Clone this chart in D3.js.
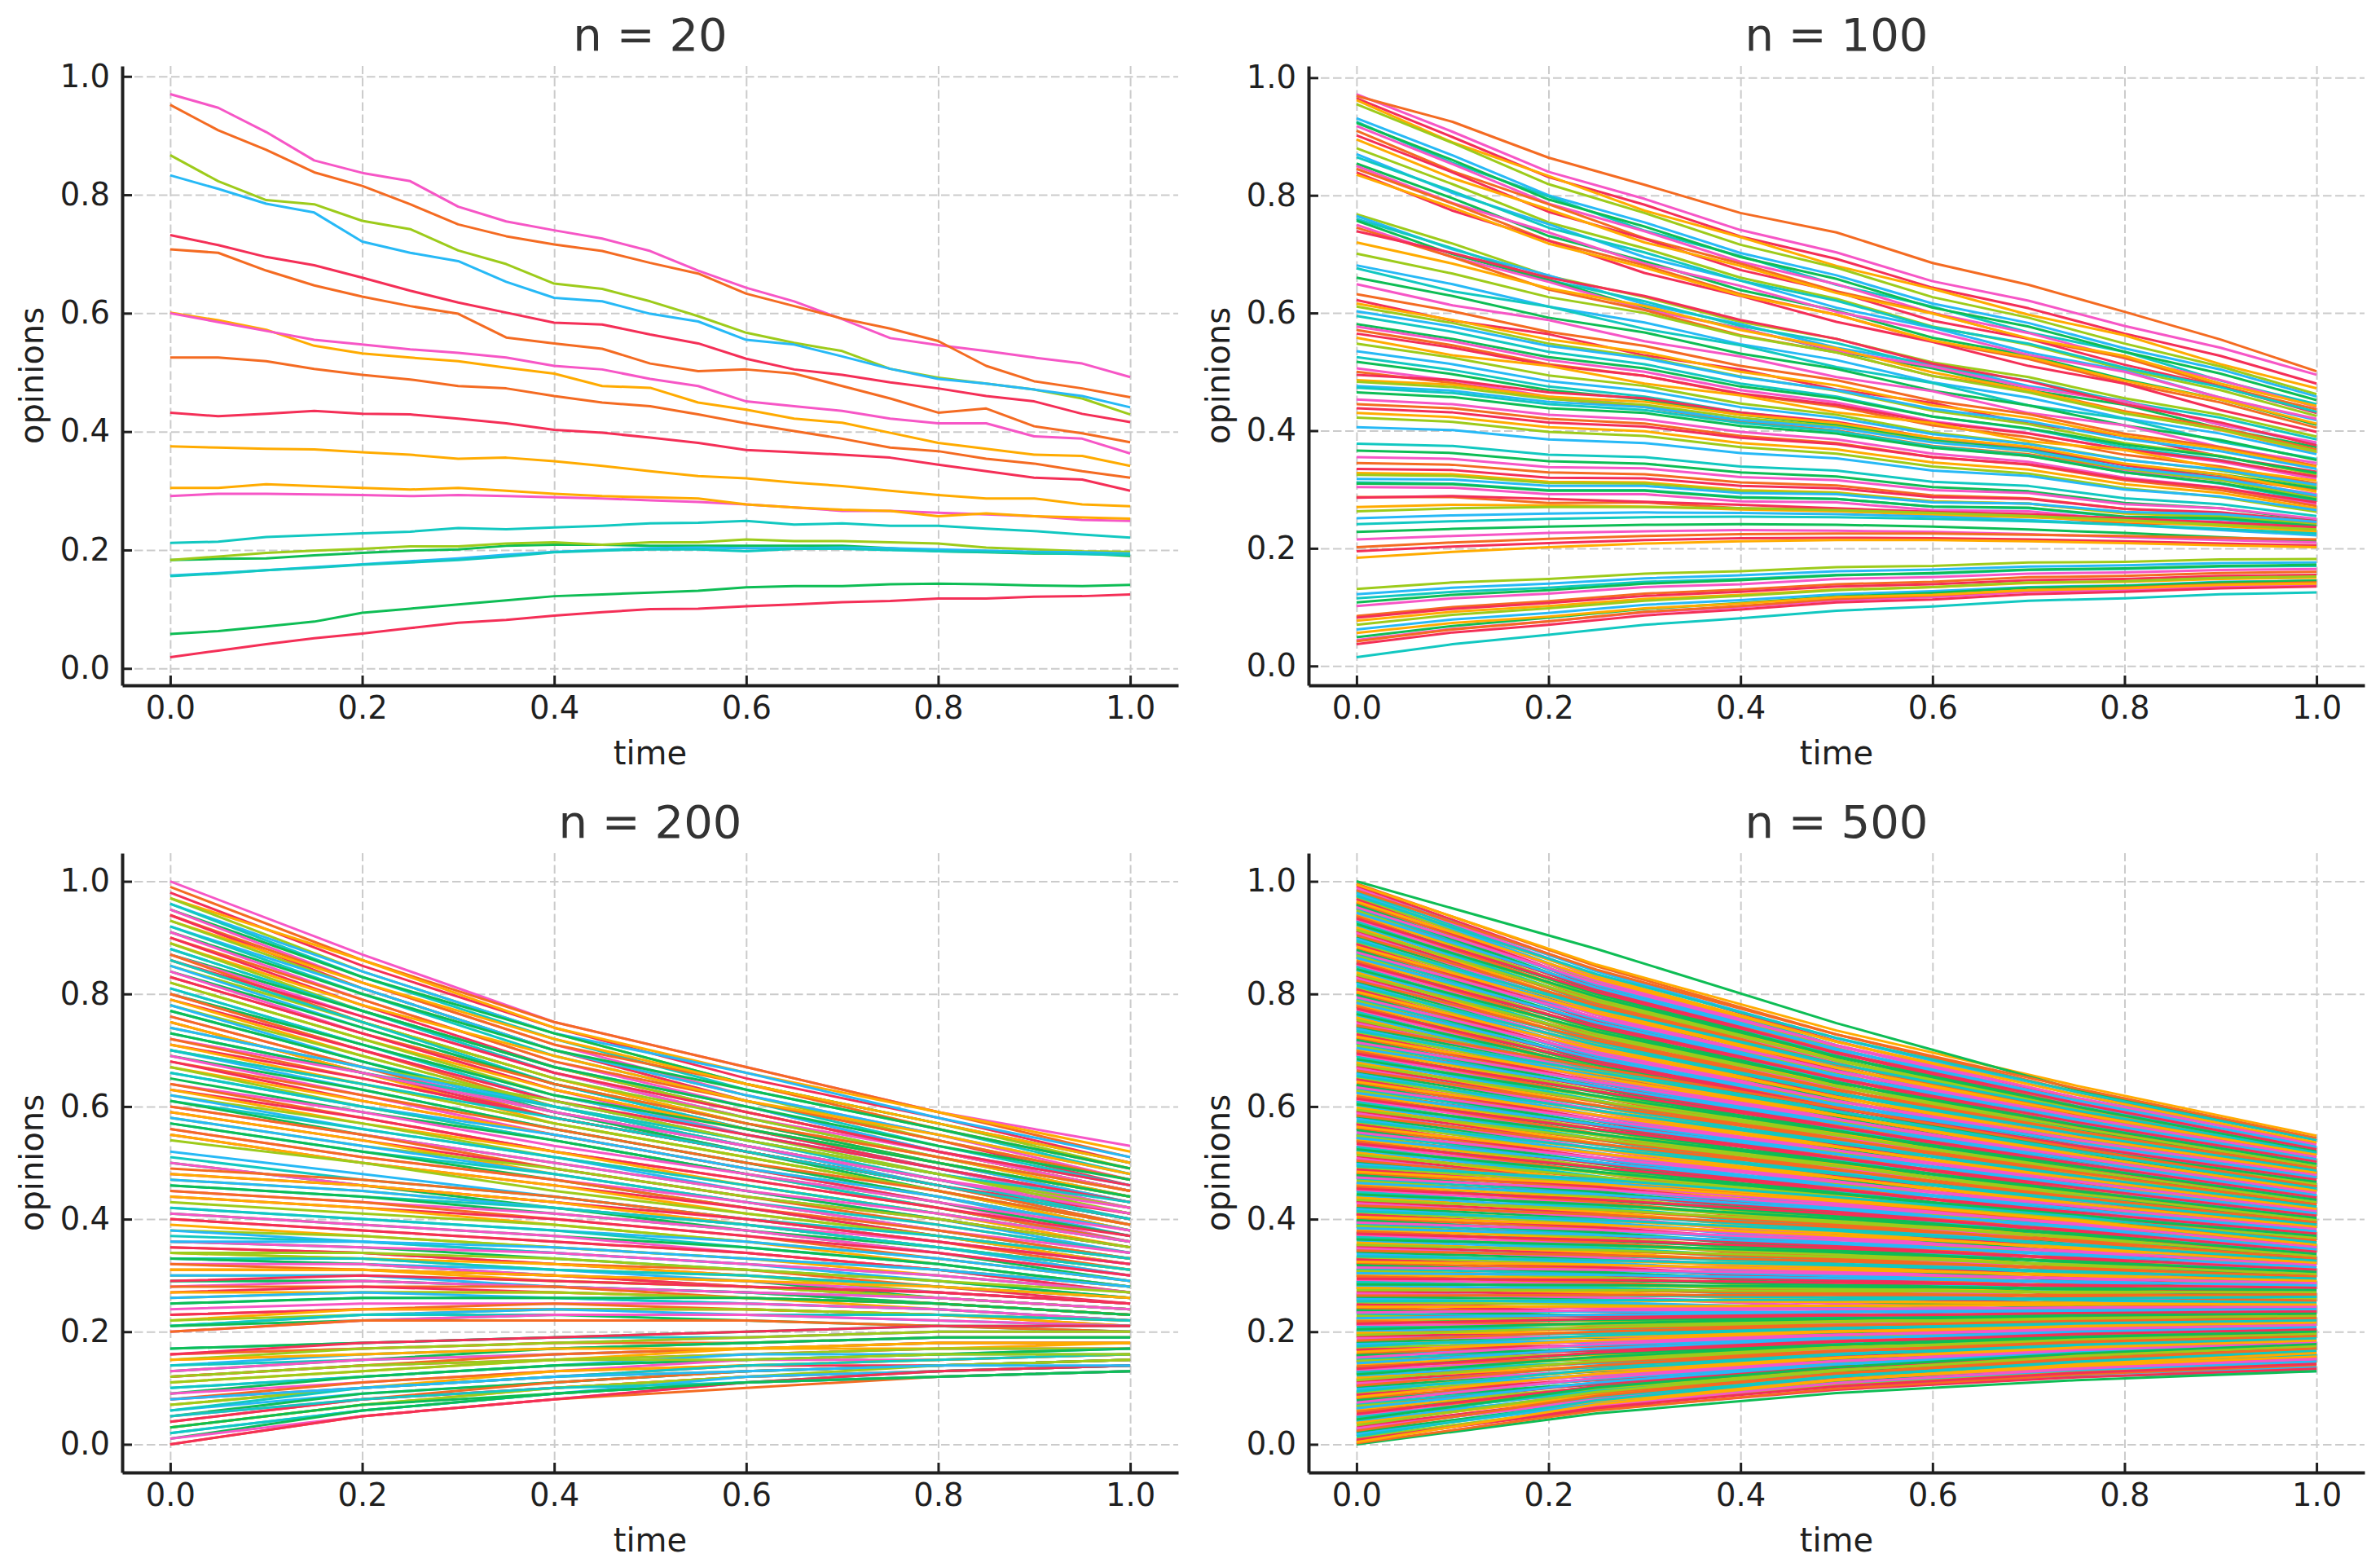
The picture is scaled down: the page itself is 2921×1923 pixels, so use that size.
<!DOCTYPE html>
<html>
<head>
<meta charset="utf-8">
<script src="https://cdn.jsdelivr.net/npm/d3@7"></script>
<style>
  body { margin: 0; background: #fff; overflow: hidden; }
</style>
</head>
<body>
<svg id="chart" width="2921" height="1923"></svg>
<script>
// sample times of each panel
var times20 = [0,0.05,0.1,0.15,0.2,0.25,0.3,0.35,0.4,0.45,0.5,0.55,0.6,0.65,0.7,0.75,0.8,0.85,0.9,0.95,1];
var times100 = [0,0.1,0.2,0.3,0.4,0.5,0.6,0.7,0.8,0.9,1];
var times200 = [0,0.2,0.4,0.6,0.8,1];
var times500 = [0,0.25,0.5,0.75,1];

var xTicks = [0,0.2,0.4,0.6,0.8,1];
var yTicks = [0,0.2,0.4,0.6,0.8,1];

var panelTitles = ["n = 20", "n = 100", "n = 200", "n = 500"];

// one row per agent, opinion read at each sample time
var opinions20 = [
  [0.970,0.947,0.906,0.858,0.837,0.823,0.780,0.755,0.740,0.726,0.705,0.672,0.643,0.620,0.590,0.558,0.546,0.536,0.525,0.515,0.492],
  [0.952,0.909,0.876,0.838,0.815,0.784,0.750,0.730,0.716,0.705,0.685,0.667,0.633,0.612,0.591,0.574,0.553,0.511,0.485,0.473,0.458],
  [0.732,0.715,0.695,0.681,0.660,0.638,0.618,0.601,0.584,0.581,0.564,0.549,0.523,0.505,0.496,0.483,0.473,0.460,0.451,0.430,0.416],
  [0.601,0.588,0.572,0.545,0.532,0.525,0.519,0.508,0.498,0.477,0.474,0.449,0.437,0.422,0.415,0.398,0.381,0.371,0.361,0.359,0.342],
  [0.867,0.823,0.791,0.784,0.756,0.742,0.706,0.683,0.650,0.641,0.620,0.595,0.567,0.550,0.536,0.506,0.491,0.481,0.471,0.456,0.429],
  [0.833,0.810,0.785,0.770,0.721,0.702,0.688,0.653,0.626,0.620,0.599,0.586,0.555,0.547,0.527,0.506,0.489,0.481,0.471,0.460,0.441],
  [0.212,0.214,0.222,0.225,0.228,0.231,0.237,0.235,0.238,0.241,0.245,0.246,0.249,0.243,0.245,0.241,0.241,0.236,0.232,0.226,0.221],
  [0.183,0.185,0.186,0.191,0.195,0.199,0.201,0.207,0.209,0.209,0.207,0.207,0.207,0.207,0.207,0.203,0.198,0.196,0.194,0.194,0.190],
  [0.600,0.585,0.570,0.555,0.547,0.539,0.533,0.525,0.511,0.505,0.489,0.477,0.451,0.443,0.435,0.422,0.414,0.414,0.392,0.388,0.363],
  [0.708,0.702,0.672,0.647,0.628,0.612,0.599,0.559,0.549,0.540,0.515,0.502,0.505,0.498,0.477,0.456,0.432,0.439,0.409,0.397,0.382],
  [0.432,0.426,0.430,0.435,0.430,0.429,0.422,0.414,0.403,0.398,0.390,0.381,0.369,0.365,0.361,0.356,0.344,0.333,0.322,0.319,0.300],
  [0.375,0.373,0.371,0.370,0.365,0.361,0.354,0.356,0.350,0.342,0.333,0.325,0.321,0.314,0.308,0.300,0.293,0.287,0.287,0.277,0.274],
  [0.183,0.189,0.195,0.199,0.202,0.206,0.206,0.211,0.213,0.209,0.213,0.213,0.218,0.215,0.215,0.213,0.211,0.204,0.201,0.198,0.197],
  [0.157,0.161,0.166,0.171,0.176,0.181,0.186,0.192,0.197,0.200,0.203,0.204,0.203,0.203,0.204,0.203,0.201,0.199,0.197,0.196,0.194],
  [0.156,0.160,0.166,0.170,0.175,0.179,0.183,0.189,0.196,0.199,0.201,0.201,0.198,0.202,0.202,0.200,0.198,0.197,0.195,0.193,0.192],
  [0.058,0.063,0.071,0.079,0.094,0.101,0.108,0.115,0.122,0.125,0.128,0.131,0.137,0.139,0.139,0.142,0.143,0.142,0.140,0.139,0.141],
  [0.291,0.295,0.295,0.294,0.293,0.291,0.293,0.291,0.289,0.287,0.284,0.281,0.277,0.272,0.266,0.266,0.263,0.260,0.257,0.251,0.249],
  [0.525,0.525,0.519,0.506,0.496,0.488,0.477,0.473,0.460,0.449,0.443,0.429,0.414,0.401,0.388,0.373,0.367,0.354,0.346,0.333,0.322],
  [0.019,0.030,0.041,0.051,0.059,0.068,0.077,0.082,0.089,0.095,0.100,0.101,0.105,0.108,0.112,0.114,0.118,0.118,0.121,0.122,0.125],
  [0.305,0.305,0.311,0.308,0.305,0.302,0.305,0.300,0.295,0.291,0.289,0.287,0.277,0.272,0.268,0.266,0.257,0.262,0.257,0.255,0.253]
];

var opinions100 = [
  [0.972,0.908,0.840,0.794,0.741,0.703,0.654,0.621,0.578,0.541,0.495],
  [0.969,0.925,0.864,0.818,0.770,0.737,0.685,0.648,0.602,0.555,0.501],
  [0.965,0.899,0.831,0.784,0.730,0.692,0.643,0.608,0.565,0.527,0.480],
  [0.962,0.890,0.833,0.774,0.729,0.680,0.641,0.597,0.562,0.513,0.472],
  [0.955,0.889,0.819,0.770,0.716,0.677,0.627,0.592,0.548,0.509,0.462],
  [0.931,0.868,0.800,0.754,0.702,0.664,0.616,0.583,0.540,0.504,0.458],
  [0.925,0.855,0.798,0.740,0.697,0.648,0.611,0.567,0.534,0.485,0.445],
  [0.923,0.860,0.793,0.747,0.695,0.658,0.609,0.577,0.534,0.497,0.452],
  [0.918,0.853,0.786,0.739,0.687,0.649,0.600,0.566,0.523,0.486,0.440],
  [0.910,0.841,0.785,0.727,0.684,0.637,0.600,0.556,0.524,0.476,0.436],
  [0.902,0.839,0.772,0.726,0.673,0.636,0.587,0.556,0.512,0.475,0.430],
  [0.895,0.829,0.776,0.720,0.680,0.634,0.599,0.557,0.527,0.480,0.442],
  [0.880,0.819,0.754,0.710,0.660,0.624,0.577,0.546,0.504,0.469,0.425],
  [0.870,0.804,0.751,0.695,0.655,0.609,0.575,0.533,0.502,0.456,0.418],
  [0.865,0.807,0.745,0.703,0.655,0.621,0.576,0.548,0.507,0.474,0.432],
  [0.854,0.795,0.731,0.688,0.639,0.604,0.558,0.528,0.487,0.453,0.410],
  [0.850,0.787,0.737,0.684,0.646,0.602,0.569,0.529,0.500,0.456,0.420],
  [0.845,0.786,0.723,0.681,0.632,0.597,0.552,0.522,0.481,0.448,0.405],
  [0.839,0.774,0.723,0.668,0.629,0.585,0.551,0.510,0.480,0.435,0.398],
  [0.835,0.779,0.718,0.677,0.630,0.597,0.553,0.525,0.485,0.453,0.412],
  [0.768,0.718,0.663,0.627,0.585,0.556,0.516,0.491,0.455,0.427,0.390],
  [0.765,0.708,0.664,0.615,0.581,0.541,0.513,0.476,0.451,0.410,0.378],
  [0.760,0.710,0.656,0.620,0.578,0.549,0.509,0.485,0.449,0.422,0.385],
  [0.757,0.700,0.656,0.608,0.574,0.535,0.506,0.469,0.444,0.404,0.372],
  [0.750,0.695,0.653,0.606,0.574,0.536,0.509,0.473,0.450,0.410,0.380],
  [0.745,0.695,0.640,0.605,0.562,0.533,0.493,0.469,0.433,0.405,0.368],
  [0.739,0.702,0.660,0.629,0.588,0.556,0.514,0.484,0.445,0.414,0.375],
  [0.720,0.684,0.642,0.612,0.571,0.540,0.499,0.469,0.431,0.401,0.362],
  [0.701,0.667,0.627,0.600,0.561,0.533,0.493,0.465,0.429,0.402,0.365],
  [0.681,0.649,0.611,0.584,0.547,0.520,0.482,0.456,0.421,0.395,0.360],
  [0.676,0.637,0.611,0.573,0.545,0.508,0.481,0.443,0.420,0.381,0.352],
  [0.660,0.629,0.592,0.567,0.531,0.505,0.468,0.443,0.409,0.384,0.350],
  [0.649,0.613,0.588,0.552,0.526,0.491,0.467,0.430,0.409,0.372,0.345],
  [0.632,0.603,0.568,0.544,0.510,0.486,0.451,0.428,0.395,0.372,0.340],
  [0.622,0.587,0.564,0.528,0.504,0.470,0.447,0.412,0.391,0.356,0.330],
  [0.616,0.588,0.555,0.533,0.500,0.477,0.443,0.422,0.391,0.369,0.338],
  [0.611,0.583,0.548,0.525,0.492,0.468,0.434,0.411,0.379,0.357,0.325],
  [0.603,0.577,0.544,0.523,0.491,0.469,0.437,0.416,0.386,0.365,0.335],
  [0.595,0.568,0.534,0.513,0.480,0.458,0.424,0.403,0.372,0.350,0.320],
  [0.581,0.556,0.525,0.506,0.475,0.455,0.424,0.404,0.376,0.356,0.328],
  [0.577,0.552,0.520,0.500,0.469,0.448,0.416,0.396,0.367,0.347,0.318],
  [0.571,0.545,0.513,0.493,0.462,0.441,0.409,0.389,0.359,0.339,0.310],
  [0.565,0.541,0.511,0.493,0.463,0.444,0.414,0.395,0.368,0.349,0.322],
  [0.558,0.528,0.510,0.480,0.460,0.431,0.413,0.382,0.367,0.336,0.315],
  [0.548,0.524,0.494,0.476,0.446,0.427,0.397,0.378,0.351,0.332,0.305],
  [0.535,0.513,0.484,0.468,0.440,0.422,0.394,0.377,0.350,0.334,0.308],
  [0.525,0.503,0.475,0.458,0.431,0.413,0.385,0.368,0.342,0.325,0.300],
  [0.517,0.496,0.469,0.453,0.427,0.410,0.383,0.367,0.342,0.326,0.302],
  [0.506,0.485,0.458,0.443,0.416,0.400,0.372,0.357,0.332,0.316,0.292],
  [0.500,0.481,0.455,0.440,0.415,0.400,0.374,0.360,0.335,0.321,0.298],
  [0.495,0.486,0.465,0.455,0.431,0.415,0.388,0.372,0.341,0.320,0.288],
  [0.486,0.478,0.458,0.449,0.427,0.413,0.388,0.373,0.344,0.326,0.296],
  [0.483,0.474,0.454,0.444,0.422,0.407,0.381,0.365,0.335,0.316,0.285],
  [0.476,0.468,0.449,0.440,0.418,0.405,0.380,0.366,0.337,0.319,0.290],
  [0.473,0.464,0.445,0.435,0.413,0.399,0.373,0.358,0.329,0.310,0.280],
  [0.465,0.457,0.438,0.430,0.408,0.395,0.371,0.357,0.329,0.311,0.283],
  [0.453,0.445,0.427,0.419,0.398,0.385,0.361,0.347,0.320,0.303,0.275],
  [0.445,0.438,0.420,0.412,0.391,0.379,0.355,0.342,0.316,0.299,0.272],
  [0.438,0.431,0.414,0.407,0.388,0.377,0.355,0.343,0.318,0.303,0.278],
  [0.430,0.423,0.406,0.399,0.379,0.368,0.346,0.334,0.309,0.294,0.268],
  [0.422,0.415,0.398,0.391,0.372,0.361,0.339,0.327,0.302,0.287,0.262],
  [0.406,0.401,0.385,0.379,0.362,0.353,0.332,0.323,0.300,0.288,0.265],
  [0.378,0.374,0.359,0.355,0.339,0.332,0.313,0.306,0.285,0.275,0.255],
  [0.366,0.362,0.348,0.344,0.329,0.322,0.304,0.297,0.277,0.268,0.248],
  [0.355,0.352,0.338,0.336,0.321,0.316,0.299,0.294,0.275,0.268,0.250],
  [0.345,0.342,0.329,0.326,0.312,0.307,0.290,0.285,0.267,0.259,0.242],
  [0.335,0.333,0.320,0.319,0.306,0.302,0.287,0.284,0.267,0.261,0.246],
  [0.328,0.326,0.313,0.312,0.299,0.295,0.280,0.276,0.259,0.254,0.238],
  [0.325,0.323,0.311,0.310,0.297,0.294,0.279,0.276,0.260,0.255,0.240],
  [0.318,0.317,0.306,0.306,0.294,0.292,0.278,0.276,0.262,0.258,0.245],
  [0.312,0.310,0.299,0.299,0.287,0.284,0.271,0.268,0.253,0.249,0.235],
  [0.310,0.309,0.298,0.298,0.286,0.284,0.271,0.269,0.254,0.251,0.238],
  [0.304,0.303,0.292,0.292,0.280,0.278,0.265,0.263,0.248,0.245,0.232],
  [0.287,0.287,0.277,0.278,0.268,0.267,0.255,0.255,0.242,0.241,0.230],
  [0.286,0.289,0.284,0.279,0.274,0.268,0.262,0.258,0.251,0.244,0.236],
  [0.270,0.274,0.273,0.271,0.266,0.263,0.257,0.253,0.246,0.238,0.228],
  [0.263,0.268,0.270,0.270,0.268,0.265,0.260,0.255,0.248,0.240,0.232],
  [0.251,0.256,0.259,0.261,0.260,0.258,0.254,0.248,0.240,0.231,0.222],
  [0.241,0.246,0.250,0.253,0.254,0.253,0.250,0.246,0.240,0.233,0.225],
  [0.228,0.233,0.237,0.240,0.241,0.240,0.237,0.232,0.226,0.219,0.212],
  [0.215,0.221,0.226,0.229,0.231,0.230,0.228,0.224,0.219,0.214,0.210],
  [0.202,0.210,0.216,0.221,0.224,0.225,0.225,0.223,0.221,0.218,0.215],
  [0.195,0.203,0.209,0.214,0.217,0.218,0.217,0.215,0.212,0.208,0.205],
  [0.184,0.194,0.202,0.208,0.212,0.214,0.214,0.212,0.209,0.205,0.202],
  [0.131,0.142,0.148,0.157,0.161,0.168,0.170,0.176,0.177,0.181,0.182],
  [0.122,0.133,0.140,0.149,0.154,0.161,0.164,0.169,0.171,0.175,0.176],
  [0.115,0.126,0.133,0.143,0.148,0.155,0.157,0.163,0.165,0.169,0.170],
  [0.108,0.121,0.129,0.140,0.146,0.154,0.158,0.164,0.166,0.170,0.172],
  [0.102,0.115,0.123,0.134,0.139,0.148,0.151,0.157,0.159,0.163,0.165],
  [0.085,0.100,0.110,0.123,0.130,0.139,0.143,0.151,0.153,0.158,0.160],
  [0.082,0.097,0.107,0.119,0.126,0.135,0.139,0.146,0.148,0.153,0.155],
  [0.077,0.092,0.102,0.114,0.121,0.130,0.134,0.141,0.143,0.148,0.150],
  [0.070,0.087,0.098,0.111,0.119,0.129,0.134,0.142,0.144,0.150,0.152],
  [0.062,0.079,0.090,0.104,0.112,0.122,0.127,0.134,0.137,0.143,0.145],
  [0.015,0.037,0.053,0.070,0.081,0.094,0.101,0.111,0.115,0.122,0.125],
  [0.049,0.068,0.082,0.097,0.107,0.118,0.124,0.133,0.136,0.142,0.145],
  [0.044,0.063,0.076,0.091,0.100,0.112,0.117,0.126,0.129,0.135,0.138],
  [0.042,0.062,0.076,0.092,0.102,0.114,0.120,0.129,0.133,0.139,0.142],
  [0.037,0.057,0.070,0.086,0.096,0.108,0.113,0.122,0.126,0.132,0.135],
  [0.056,0.073,0.084,0.098,0.106,0.117,0.121,0.129,0.132,0.138,0.140]
];

var opinions200 = [
  [1.00,0.87,0.75,0.67,0.59,0.53],[0.99,0.86,0.75,0.67,0.59,0.51],[0.98,0.85,0.74,0.65,0.58,0.50],
  [0.97,0.86,0.74,0.66,0.59,0.52],[0.97,0.84,0.73,0.64,0.57,0.49],[0.96,0.84,0.73,0.66,0.58,0.51],
  [0.96,0.83,0.72,0.63,0.56,0.48],[0.95,0.83,0.73,0.64,0.57,0.50],[0.95,0.82,0.71,0.62,0.55,0.47],
  [0.94,0.82,0.71,0.64,0.56,0.49],[0.94,0.81,0.70,0.61,0.54,0.46],[0.93,0.82,0.72,0.64,0.57,0.50],
  [0.93,0.81,0.70,0.62,0.54,0.47],[0.92,0.81,0.70,0.62,0.55,0.48],[0.92,0.80,0.69,0.61,0.53,0.46],
  [0.91,0.80,0.70,0.63,0.56,0.49],[0.91,0.79,0.68,0.60,0.52,0.45],[0.90,0.79,0.68,0.61,0.54,0.47],
  [0.90,0.78,0.67,0.59,0.52,0.45],[0.89,0.78,0.69,0.61,0.55,0.48],[0.89,0.77,0.67,0.59,0.52,0.45],
  [0.88,0.77,0.67,0.60,0.52,0.46],[0.88,0.77,0.66,0.58,0.51,0.44],[0.87,0.77,0.67,0.60,0.53,0.47],
  [0.87,0.76,0.66,0.58,0.52,0.45],[0.87,0.75,0.65,0.57,0.50,0.43],[0.86,0.76,0.66,0.59,0.52,0.46],
  [0.86,0.75,0.65,0.57,0.51,0.44],[0.85,0.75,0.65,0.58,0.51,0.45],[0.85,0.74,0.64,0.56,0.50,0.43],
  [0.86,0.75,0.64,0.56,0.49,0.42],[0.84,0.74,0.64,0.57,0.50,0.44],[0.84,0.73,0.63,0.55,0.49,0.42],
  [0.83,0.73,0.64,0.57,0.51,0.45],[0.83,0.73,0.63,0.56,0.49,0.43],
  [0.82,0.72,0.63,0.56,0.50,0.44],[0.82,0.72,0.62,0.55,0.48,0.42],[0.81,0.71,0.62,0.55,0.49,0.43],
  [0.81,0.71,0.61,0.54,0.47,0.41],[0.80,0.71,0.62,0.56,0.50,0.44],[0.80,0.70,0.61,0.54,0.48,0.42],
  [0.80,0.70,0.60,0.53,0.46,0.40],[0.79,0.70,0.61,0.55,0.49,0.43],[0.79,0.69,0.60,0.53,0.47,0.41],
  [0.78,0.69,0.60,0.54,0.48,0.42],[0.78,0.68,0.59,0.52,0.46,0.40],[0.77,0.68,0.60,0.54,0.48,0.43],
  [0.77,0.68,0.59,0.53,0.47,0.41],[0.76,0.67,0.59,0.53,0.47,0.42],[0.76,0.67,0.58,0.52,0.46,0.40],
  [0.75,0.66,0.58,0.52,0.46,0.41],[0.75,0.66,0.57,0.51,0.45,0.39],[0.74,0.67,0.61,0.54,0.48,0.41],
  [0.74,0.67,0.60,0.53,0.46,0.39],[0.73,0.66,0.60,0.53,0.47,0.40],[0.73,0.66,0.59,0.52,0.45,0.38],
  [0.72,0.66,0.59,0.53,0.47,0.41],[0.72,0.65,0.58,0.52,0.46,0.39],[0.71,0.65,0.58,0.52,0.46,0.40],
  [0.71,0.64,0.57,0.51,0.45,0.38],[0.70,0.64,0.57,0.51,0.45,0.39],[0.70,0.63,0.56,0.50,0.44,0.37],
  [0.70,0.64,0.58,0.52,0.46,0.40],[0.69,0.63,0.56,0.50,0.44,0.38],[0.69,0.62,0.55,0.49,0.43,0.36],
  [0.68,0.62,0.56,0.50,0.45,0.39],[0.68,0.61,0.55,0.49,0.43,0.37],[0.67,0.61,0.55,0.49,0.44,0.38],
  [0.67,0.60,0.54,0.48,0.42,0.36],[0.66,0.60,0.55,0.49,0.44,0.38],[0.66,0.60,0.54,0.48,0.42,0.36],
  [0.65,0.59,0.54,0.48,0.43,0.37],[0.64,0.59,0.53,0.48,0.43,0.38],[0.64,0.58,0.52,0.47,0.42,0.36],
  [0.63,0.58,0.52,0.47,0.42,0.37],[0.63,0.57,0.52,0.46,0.41,0.35],[0.62,0.57,0.51,0.46,0.41,0.36],
  [0.62,0.56,0.51,0.45,0.40,0.34],[0.61,0.56,0.51,0.46,0.41,0.36],[0.61,0.55,0.50,0.45,0.40,0.35],
  [0.60,0.55,0.50,0.45,0.41,0.36],[0.60,0.55,0.49,0.44,0.39,0.34],[0.59,0.54,0.49,0.44,0.40,0.35],
  [0.59,0.54,0.48,0.43,0.38,0.33],[0.58,0.53,0.49,0.44,0.40,0.35],[0.58,0.53,0.48,0.43,0.38,0.33],
  [0.57,0.52,0.48,0.43,0.39,0.34],[0.57,0.52,0.47,0.42,0.37,0.32],[0.56,0.51,0.47,0.43,0.38,0.34],
  [0.56,0.51,0.47,0.42,0.38,0.33],[0.55,0.50,0.46,0.42,0.37,0.33],[0.55,0.50,0.46,0.41,0.37,0.32],
  [0.54,0.50,0.45,0.41,0.37,0.33],
  [0.52,0.48,0.44,0.40,0.36,0.32],[0.51,0.47,0.44,0.40,0.37,0.33],[0.50,0.46,0.42,0.38,0.35,0.31],
  [0.50,0.46,0.43,0.39,0.36,0.32],[0.49,0.47,0.44,0.40,0.36,0.31],[0.48,0.46,0.43,0.40,0.36,0.32],
  [0.48,0.46,0.43,0.39,0.35,0.30],[0.47,0.45,0.42,0.39,0.35,0.31],[0.47,0.45,0.42,0.39,0.35,0.30],
  [0.46,0.44,0.42,0.39,0.35,0.31],[0.46,0.44,0.41,0.38,0.34,0.29],[0.45,0.43,0.41,0.38,0.34,0.30],
  [0.45,0.43,0.40,0.37,0.33,0.29],[0.44,0.42,0.40,0.37,0.34,0.30],[0.44,0.42,0.39,0.36,0.32,0.28],
  [0.43,0.41,0.39,0.36,0.33,0.29],[0.42,0.40,0.38,0.36,0.33,0.29],[0.42,0.40,0.38,0.35,0.32,0.28],
  [0.41,0.39,0.37,0.35,0.32,0.28],[0.41,0.39,0.37,0.34,0.31,0.27],[0.40,0.38,0.36,0.34,0.31,0.28],
  [0.40,0.38,0.36,0.34,0.31,0.27],[0.39,0.37,0.35,0.33,0.30,0.27],[0.38,0.37,0.35,0.33,0.31,0.28],
  [0.38,0.36,0.34,0.32,0.29,0.26],
  [0.37,0.36,0.34,0.32,0.30,0.27],[0.36,0.35,0.33,0.31,0.29,0.26],[0.36,0.35,0.34,0.32,0.30,0.27],
  [0.35,0.34,0.32,0.31,0.28,0.26],[0.35,0.34,0.32,0.30,0.28,0.25],[0.34,0.33,0.32,0.30,0.28,0.26],
  [0.34,0.33,0.31,0.30,0.27,0.25],[0.33,0.32,0.31,0.29,0.27,0.25],[0.33,0.33,0.31,0.30,0.28,0.26],
  [0.33,0.32,0.30,0.29,0.26,0.24],[0.32,0.32,0.30,0.29,0.27,0.25],[0.32,0.31,0.30,0.28,0.26,0.24],
  [0.31,0.31,0.30,0.28,0.27,0.25],[0.31,0.31,0.29,0.28,0.26,0.24],[0.30,0.30,0.29,0.28,0.26,0.24],
  [0.30,0.30,0.28,0.27,0.25,0.23],[0.29,0.29,0.28,0.27,0.26,0.24],[0.29,0.29,0.28,0.27,0.25,0.23],
  [0.28,0.29,0.28,0.27,0.26,0.24],[0.28,0.28,0.28,0.26,0.25,0.23],[0.27,0.28,0.27,0.26,0.25,0.23],
  [0.27,0.27,0.27,0.26,0.24,0.22],[0.26,0.27,0.27,0.26,0.25,0.23],[0.26,0.27,0.26,0.25,0.24,0.22],
  [0.25,0.26,0.26,0.25,0.24,0.22],[0.25,0.26,0.26,0.26,0.25,0.23],[0.24,0.25,0.25,0.25,0.24,0.22],
  [0.23,0.24,0.25,0.24,0.23,0.21],[0.23,0.24,0.24,0.24,0.23,0.22],[0.22,0.24,0.24,0.24,0.23,0.21],
  [0.22,0.23,0.24,0.24,0.23,0.22],[0.21,0.23,0.24,0.23,0.22,0.21],[0.21,0.23,0.23,0.23,0.23,0.22],
  [0.21,0.22,0.23,0.22,0.21,0.20],[0.20,0.22,0.23,0.23,0.22,0.21],[0.20,0.22,0.22,0.22,0.21,0.20],
  [0.29,0.30,0.29,0.28,0.27,0.25],[0.31,0.31,0.30,0.29,0.28,0.26],[0.34,0.34,0.33,0.31,0.29,0.27],
  [0.36,0.36,0.35,0.33,0.31,0.28],
  [0.17,0.18,0.19,0.19,0.20,0.20],[0.17,0.18,0.19,0.20,0.21,0.21],[0.16,0.17,0.18,0.19,0.20,0.20],
  [0.16,0.17,0.18,0.18,0.19,0.19],[0.16,0.18,0.19,0.20,0.21,0.21],[0.15,0.16,0.17,0.18,0.19,0.19],
  [0.15,0.17,0.18,0.19,0.20,0.20],[0.14,0.16,0.17,0.18,0.19,0.19],[0.14,0.15,0.16,0.17,0.18,0.18],
  [0.13,0.15,0.17,0.18,0.19,0.19],[0.13,0.15,0.16,0.17,0.18,0.18],[0.12,0.14,0.16,0.17,0.18,0.18],
  [0.12,0.14,0.15,0.16,0.17,0.17],[0.11,0.13,0.15,0.17,0.17,0.18],[0.11,0.13,0.15,0.16,0.17,0.17],
  [0.10,0.12,0.14,0.16,0.16,0.17],[0.10,0.12,0.14,0.15,0.16,0.16],[0.09,0.12,0.14,0.15,0.16,0.17],
  [0.09,0.11,0.13,0.15,0.15,0.16],[0.08,0.11,0.13,0.14,0.15,0.16],[0.08,0.10,0.12,0.14,0.14,0.15],
  [0.07,0.10,0.13,0.14,0.15,0.16],[0.07,0.10,0.12,0.13,0.14,0.15],[0.06,0.09,0.11,0.13,0.14,0.15],
  [0.06,0.10,0.12,0.14,0.15,0.16],[0.05,0.09,0.11,0.13,0.14,0.15],[0.05,0.08,0.10,0.12,0.13,0.14],
  [0.04,0.08,0.11,0.13,0.14,0.15],[0.04,0.08,0.10,0.12,0.13,0.14],[0.03,0.07,0.10,0.12,0.13,0.14],
  [0.03,0.07,0.10,0.12,0.14,0.15],[0.02,0.06,0.09,0.12,0.13,0.14],[0.02,0.06,0.09,0.11,0.12,0.13],
  [0.01,0.06,0.09,0.11,0.13,0.14],[0.01,0.05,0.08,0.11,0.12,0.13],[0.00,0.05,0.08,0.10,0.12,0.13],
  [0.00,0.05,0.08,0.11,0.13,0.14],[0.15,0.16,0.17,0.17,0.18,0.18],[0.12,0.14,0.15,0.15,0.16,0.16],
  [0.08,0.10,0.12,0.13,0.14,0.14],[0.05,0.08,0.10,0.11,0.12,0.13],[0.03,0.07,0.09,0.11,0.12,0.13]
];

var opinions500 = [
  [0.990,0.829,0.698,0.587,0.486],[0.996,0.849,0.728,0.626,0.533],[0.992,0.841,0.716,0.612,0.517],[0.994,0.852,0.735,0.637,0.548],
  [0.980,0.820,0.691,0.582,0.482],[0.986,0.840,0.721,0.621,0.529],[0.982,0.832,0.709,0.607,0.513],
  [1.000,0.880,0.748,0.630,0.540],
  [0.988,0.832,0.704,0.598,0.500],[0.984,0.843,0.728,0.632,0.544],
  [0.970,0.812,0.685,0.576,0.478],[0.976,0.832,0.715,0.615,0.525],[0.972,0.824,0.703,0.601,0.509],[0.978,0.824,0.698,0.592,0.496],[0.974,0.835,0.722,0.626,0.540],
  [0.960,0.804,0.678,0.571,0.474],[0.966,0.824,0.708,0.610,0.521],[0.962,0.816,0.696,0.596,0.505],[0.968,0.816,0.691,0.587,0.492],[0.964,0.827,0.715,0.621,0.536],
  [0.950,0.796,0.672,0.566,0.470],[0.956,0.816,0.702,0.605,0.517],[0.952,0.808,0.690,0.591,0.501],[0.958,0.808,0.685,0.582,0.488],[0.954,0.819,0.709,0.616,0.532],
  [0.940,0.788,0.665,0.561,0.466],[0.946,0.808,0.695,0.600,0.513],[0.942,0.800,0.683,0.586,0.497],[0.948,0.800,0.678,0.577,0.484],[0.944,0.811,0.702,0.611,0.528],
  [0.930,0.780,0.659,0.556,0.462],[0.936,0.800,0.689,0.595,0.509],[0.932,0.792,0.677,0.581,0.493],[0.938,0.792,0.672,0.572,0.480],[0.934,0.803,0.696,0.606,0.524],
  [0.920,0.772,0.652,0.550,0.458],[0.926,0.792,0.682,0.589,0.505],[0.922,0.784,0.670,0.575,0.489],[0.928,0.784,0.665,0.566,0.476],[0.924,0.795,0.689,0.600,0.520],
  [0.910,0.764,0.646,0.545,0.454],[0.916,0.784,0.676,0.584,0.501],[0.912,0.776,0.664,0.570,0.485],[0.918,0.776,0.659,0.561,0.472],[0.914,0.787,0.683,0.595,0.516],
  [0.900,0.756,0.639,0.540,0.450],[0.906,0.776,0.669,0.579,0.497],[0.902,0.768,0.657,0.565,0.481],[0.908,0.768,0.652,0.556,0.468],[0.904,0.779,0.676,0.590,0.512],
  [0.890,0.751,0.639,0.543,0.456],[0.896,0.771,0.669,0.582,0.503],[0.892,0.763,0.657,0.568,0.487],[0.898,0.763,0.652,0.559,0.474],[0.894,0.774,0.676,0.593,0.518],
  [0.880,0.743,0.632,0.538,0.452],[0.886,0.763,0.662,0.577,0.499],[0.882,0.755,0.650,0.563,0.483],[0.888,0.755,0.645,0.554,0.470],[0.884,0.766,0.669,0.588,0.514],
  [0.870,0.735,0.626,0.532,0.448],[0.876,0.755,0.656,0.571,0.495],[0.872,0.747,0.644,0.557,0.479],[0.878,0.747,0.639,0.548,0.466],[0.874,0.758,0.663,0.582,0.510],
  [0.860,0.726,0.619,0.527,0.444],[0.866,0.746,0.649,0.566,0.491],[0.862,0.738,0.637,0.552,0.475],[0.868,0.738,0.632,0.543,0.462],[0.864,0.749,0.656,0.577,0.506],
  [0.850,0.718,0.613,0.522,0.440],[0.856,0.738,0.643,0.561,0.487],[0.852,0.730,0.631,0.547,0.471],[0.858,0.730,0.626,0.538,0.458],[0.854,0.741,0.650,0.572,0.502],
  [0.840,0.710,0.606,0.517,0.436],[0.846,0.730,0.636,0.556,0.483],[0.842,0.722,0.624,0.542,0.467],[0.848,0.722,0.619,0.533,0.454],[0.844,0.733,0.643,0.567,0.498],
  [0.830,0.702,0.600,0.512,0.432],[0.836,0.722,0.630,0.551,0.479],[0.832,0.714,0.618,0.537,0.463],[0.838,0.714,0.613,0.528,0.450],[0.834,0.725,0.637,0.562,0.494],
  [0.820,0.694,0.593,0.506,0.428],[0.826,0.714,0.623,0.545,0.475],[0.822,0.706,0.611,0.531,0.459],[0.828,0.706,0.606,0.522,0.446],[0.824,0.717,0.630,0.556,0.490],
  [0.810,0.686,0.587,0.501,0.424],[0.816,0.706,0.617,0.540,0.471],[0.812,0.698,0.605,0.526,0.455],[0.818,0.698,0.600,0.517,0.442],[0.814,0.709,0.624,0.551,0.486],
  [0.800,0.678,0.580,0.496,0.420],[0.806,0.698,0.610,0.535,0.467],[0.802,0.690,0.598,0.521,0.451],[0.808,0.690,0.593,0.512,0.438],[0.804,0.701,0.617,0.546,0.482],
  [0.790,0.670,0.573,0.491,0.416],[0.796,0.690,0.603,0.530,0.463],[0.792,0.682,0.591,0.516,0.447],[0.798,0.682,0.586,0.507,0.434],[0.794,0.693,0.610,0.541,0.478],
  [0.780,0.662,0.567,0.486,0.412],[0.786,0.682,0.597,0.525,0.459],[0.782,0.674,0.585,0.511,0.443],[0.788,0.674,0.580,0.502,0.430],[0.784,0.685,0.604,0.536,0.474],
  [0.770,0.654,0.560,0.480,0.408],[0.776,0.674,0.590,0.519,0.455],[0.772,0.666,0.578,0.505,0.439],[0.778,0.666,0.573,0.496,0.426],[0.774,0.677,0.597,0.530,0.470],
  [0.760,0.646,0.554,0.475,0.404],[0.766,0.666,0.584,0.514,0.451],[0.762,0.658,0.572,0.500,0.435],[0.768,0.658,0.567,0.491,0.422],[0.764,0.669,0.591,0.525,0.466],
  [0.750,0.638,0.547,0.470,0.400],[0.756,0.658,0.577,0.509,0.447],[0.752,0.650,0.565,0.495,0.431],[0.758,0.650,0.560,0.486,0.418],[0.754,0.661,0.584,0.520,0.462],
  [0.740,0.650,0.565,0.478,0.396],[0.746,0.667,0.592,0.516,0.443],[0.742,0.660,0.581,0.502,0.427],[0.748,0.661,0.578,0.494,0.414],[0.744,0.669,0.598,0.526,0.458],
  [0.730,0.642,0.558,0.473,0.392],[0.736,0.659,0.585,0.511,0.439],[0.732,0.652,0.574,0.497,0.423],[0.738,0.653,0.571,0.489,0.410],[0.734,0.661,0.591,0.521,0.454],
  [0.720,0.633,0.551,0.467,0.388],[0.726,0.650,0.578,0.505,0.435],[0.722,0.643,0.567,0.491,0.419],[0.728,0.644,0.564,0.483,0.406],[0.724,0.652,0.584,0.515,0.450],
  [0.710,0.625,0.544,0.462,0.384],[0.716,0.642,0.571,0.500,0.431],[0.712,0.635,0.560,0.486,0.415],[0.718,0.636,0.557,0.478,0.402],[0.714,0.644,0.577,0.510,0.446],
  [0.700,0.617,0.537,0.457,0.380],[0.706,0.634,0.564,0.495,0.427],[0.702,0.627,0.553,0.481,0.411],[0.708,0.628,0.550,0.473,0.398],[0.704,0.636,0.570,0.505,0.442],
  [0.690,0.608,0.530,0.451,0.376],[0.696,0.625,0.557,0.489,0.423],[0.692,0.618,0.546,0.475,0.407],[0.698,0.619,0.543,0.467,0.394],[0.694,0.627,0.563,0.499,0.438],
  [0.680,0.600,0.523,0.446,0.372],[0.686,0.617,0.550,0.484,0.419],[0.682,0.610,0.539,0.470,0.403],[0.688,0.611,0.536,0.462,0.390],[0.684,0.619,0.556,0.494,0.434],
  [0.670,0.591,0.516,0.440,0.368],[0.676,0.608,0.543,0.478,0.415],[0.672,0.601,0.532,0.464,0.399],[0.678,0.602,0.529,0.456,0.386],[0.674,0.610,0.549,0.488,0.430],
  [0.660,0.583,0.509,0.435,0.364],[0.666,0.600,0.536,0.473,0.411],[0.662,0.593,0.525,0.459,0.395],[0.668,0.594,0.522,0.451,0.382],[0.664,0.602,0.542,0.483,0.426],
  [0.650,0.574,0.502,0.429,0.360],[0.656,0.591,0.529,0.467,0.407],[0.652,0.584,0.518,0.453,0.391],[0.658,0.585,0.515,0.445,0.378],[0.654,0.593,0.535,0.477,0.422],
  [0.640,0.566,0.495,0.424,0.356],[0.646,0.583,0.522,0.462,0.403],[0.642,0.576,0.511,0.448,0.387],[0.648,0.577,0.508,0.440,0.374],[0.644,0.585,0.528,0.472,0.418],
  [0.630,0.558,0.489,0.419,0.352],[0.636,0.575,0.516,0.457,0.399],[0.632,0.568,0.505,0.443,0.383],[0.638,0.569,0.502,0.435,0.370],[0.634,0.577,0.522,0.467,0.414],
  [0.620,0.549,0.482,0.413,0.348],[0.626,0.566,0.509,0.451,0.395],[0.622,0.559,0.498,0.437,0.379],[0.628,0.560,0.495,0.429,0.366],[0.624,0.568,0.515,0.461,0.410],
  [0.610,0.541,0.475,0.408,0.344],[0.616,0.558,0.502,0.446,0.391],[0.612,0.551,0.491,0.432,0.375],[0.618,0.552,0.488,0.424,0.362],[0.614,0.560,0.508,0.456,0.406],
  [0.600,0.532,0.468,0.402,0.340],[0.606,0.549,0.495,0.440,0.387],[0.602,0.542,0.484,0.426,0.371],[0.608,0.543,0.481,0.418,0.358],[0.604,0.551,0.501,0.450,0.402],
  [0.590,0.524,0.461,0.397,0.336],[0.596,0.541,0.488,0.435,0.383],[0.592,0.534,0.477,0.421,0.367],[0.598,0.535,0.474,0.413,0.354],[0.594,0.543,0.494,0.445,0.398],
  [0.580,0.515,0.454,0.391,0.332],[0.586,0.532,0.481,0.429,0.379],[0.582,0.525,0.470,0.415,0.363],[0.588,0.526,0.467,0.407,0.350],[0.584,0.534,0.487,0.439,0.394],
  [0.570,0.507,0.447,0.386,0.328],[0.576,0.524,0.474,0.424,0.375],[0.572,0.517,0.463,0.410,0.359],[0.578,0.518,0.460,0.402,0.346],[0.574,0.526,0.480,0.434,0.390],
  [0.560,0.498,0.440,0.380,0.324],[0.566,0.515,0.467,0.418,0.371],[0.562,0.508,0.456,0.404,0.355],[0.568,0.509,0.453,0.396,0.342],[0.564,0.517,0.473,0.428,0.386],
  [0.550,0.490,0.433,0.375,0.320],[0.556,0.507,0.460,0.413,0.367],[0.552,0.500,0.449,0.399,0.351],[0.558,0.501,0.446,0.391,0.338],[0.554,0.509,0.466,0.423,0.382],
  [0.540,0.482,0.426,0.370,0.316],[0.546,0.499,0.453,0.408,0.363],[0.542,0.492,0.442,0.394,0.347],[0.548,0.493,0.439,0.386,0.334],[0.544,0.501,0.459,0.418,0.378],
  [0.530,0.473,0.419,0.364,0.312],[0.536,0.490,0.446,0.402,0.359],[0.532,0.483,0.435,0.388,0.343],[0.538,0.484,0.432,0.380,0.330],[0.534,0.492,0.452,0.412,0.374],
  [0.520,0.465,0.412,0.359,0.308],[0.526,0.482,0.439,0.397,0.355],[0.522,0.475,0.428,0.383,0.339],[0.528,0.476,0.425,0.375,0.326],[0.524,0.484,0.445,0.407,0.370],
  [0.510,0.456,0.405,0.353,0.304],[0.516,0.473,0.432,0.391,0.351],[0.512,0.466,0.421,0.377,0.335],[0.518,0.467,0.418,0.369,0.322],[0.514,0.475,0.438,0.401,0.366],
  [0.500,0.448,0.398,0.348,0.300],[0.506,0.465,0.425,0.386,0.347],[0.502,0.458,0.414,0.372,0.331],[0.508,0.459,0.411,0.364,0.318],[0.504,0.467,0.431,0.396,0.362],
  [0.490,0.457,0.412,0.362,0.296],[0.496,0.470,0.435,0.396,0.343],[0.492,0.464,0.426,0.383,0.327],[0.498,0.467,0.424,0.377,0.314],[0.494,0.471,0.439,0.404,0.358],
  [0.480,0.448,0.405,0.356,0.292],[0.486,0.461,0.428,0.390,0.339],[0.482,0.455,0.419,0.377,0.323],[0.488,0.458,0.417,0.371,0.310],[0.484,0.462,0.432,0.398,0.354],
  [0.470,0.439,0.397,0.350,0.288],[0.476,0.452,0.420,0.384,0.335],[0.472,0.446,0.411,0.371,0.319],[0.478,0.449,0.409,0.365,0.306],[0.474,0.453,0.424,0.392,0.350],
  [0.460,0.430,0.390,0.344,0.284],[0.466,0.443,0.413,0.378,0.331],[0.462,0.437,0.404,0.365,0.315],[0.468,0.440,0.402,0.359,0.302],[0.464,0.444,0.417,0.386,0.346],
  [0.450,0.421,0.382,0.338,0.280],[0.456,0.434,0.405,0.372,0.327],[0.452,0.428,0.396,0.359,0.311],[0.458,0.431,0.394,0.353,0.298],[0.454,0.435,0.409,0.380,0.342],
  [0.440,0.412,0.374,0.332,0.276],[0.446,0.425,0.397,0.366,0.323],[0.442,0.419,0.388,0.353,0.307],[0.448,0.422,0.386,0.347,0.294],[0.444,0.426,0.401,0.374,0.338],
  [0.430,0.403,0.367,0.326,0.272],[0.436,0.416,0.390,0.360,0.319],[0.432,0.410,0.381,0.347,0.303],[0.438,0.413,0.379,0.341,0.290],[0.434,0.417,0.394,0.368,0.334],
  [0.420,0.394,0.359,0.320,0.268],[0.426,0.407,0.382,0.354,0.315],[0.422,0.401,0.373,0.341,0.299],[0.428,0.404,0.371,0.335,0.286],[0.424,0.408,0.386,0.362,0.330],
  [0.410,0.385,0.352,0.313,0.264],[0.416,0.398,0.375,0.347,0.311],[0.412,0.392,0.366,0.334,0.295],[0.418,0.395,0.364,0.328,0.282],[0.414,0.399,0.379,0.355,0.326],
  [0.400,0.376,0.344,0.307,0.260],[0.406,0.389,0.367,0.341,0.307],[0.402,0.383,0.358,0.328,0.291],[0.408,0.386,0.356,0.322,0.278],[0.404,0.390,0.371,0.349,0.322],
  [0.390,0.367,0.336,0.301,0.256],[0.396,0.380,0.359,0.335,0.303],[0.392,0.374,0.350,0.322,0.287],[0.398,0.377,0.348,0.316,0.274],[0.394,0.381,0.363,0.343,0.318],
  [0.380,0.358,0.329,0.295,0.252],[0.386,0.371,0.352,0.329,0.299],[0.382,0.365,0.343,0.316,0.283],[0.388,0.368,0.341,0.310,0.270],[0.384,0.372,0.356,0.337,0.314],
  [0.370,0.349,0.321,0.289,0.248],[0.376,0.362,0.344,0.323,0.295],[0.372,0.356,0.335,0.310,0.279],[0.378,0.359,0.333,0.304,0.266],[0.374,0.363,0.348,0.331,0.310],
  [0.360,0.340,0.314,0.283,0.244],[0.366,0.353,0.337,0.317,0.291],[0.362,0.347,0.328,0.304,0.275],[0.368,0.350,0.326,0.298,0.262],[0.364,0.354,0.341,0.325,0.306],
  [0.350,0.331,0.306,0.277,0.240],[0.356,0.344,0.329,0.311,0.287],[0.352,0.338,0.320,0.298,0.271],[0.358,0.341,0.318,0.292,0.258],[0.354,0.345,0.333,0.319,0.302],
  [0.340,0.322,0.298,0.271,0.236],[0.346,0.335,0.321,0.305,0.283],[0.342,0.329,0.312,0.292,0.267],[0.348,0.332,0.310,0.286,0.254],[0.344,0.336,0.325,0.313,0.298],
  [0.330,0.313,0.291,0.265,0.232],[0.336,0.326,0.314,0.299,0.279],[0.332,0.320,0.305,0.286,0.263],[0.338,0.323,0.303,0.280,0.250],[0.334,0.327,0.318,0.307,0.294],
  [0.320,0.305,0.283,0.259,0.228],[0.326,0.318,0.306,0.293,0.275],[0.322,0.312,0.297,0.280,0.259],[0.328,0.315,0.295,0.274,0.246],[0.324,0.319,0.310,0.301,0.290],
  [0.310,0.296,0.276,0.253,0.224],[0.316,0.309,0.299,0.287,0.271],[0.312,0.303,0.290,0.274,0.255],[0.318,0.306,0.288,0.268,0.242],[0.314,0.310,0.303,0.295,0.286],
  [0.300,0.287,0.268,0.247,0.220],[0.306,0.300,0.291,0.281,0.267],[0.302,0.294,0.282,0.268,0.251],[0.308,0.297,0.280,0.262,0.238],[0.304,0.301,0.295,0.289,0.282],
  [0.290,0.278,0.260,0.241,0.216],[0.296,0.291,0.283,0.275,0.263],[0.292,0.285,0.274,0.262,0.247],[0.298,0.288,0.272,0.256,0.234],[0.294,0.292,0.287,0.283,0.278],
  [0.280,0.269,0.253,0.235,0.212],[0.286,0.282,0.276,0.269,0.259],[0.282,0.276,0.267,0.256,0.243],[0.288,0.279,0.265,0.250,0.230],[0.284,0.283,0.280,0.277,0.274],
  [0.270,0.260,0.245,0.229,0.208],[0.276,0.273,0.268,0.263,0.255],[0.272,0.267,0.259,0.250,0.239],[0.278,0.270,0.257,0.244,0.226],[0.274,0.274,0.272,0.271,0.270],
  [0.260,0.251,0.238,0.223,0.204],[0.266,0.264,0.261,0.257,0.251],[0.262,0.258,0.252,0.244,0.235],[0.268,0.261,0.250,0.238,0.222],[0.264,0.265,0.265,0.265,0.266],
  [0.250,0.242,0.230,0.217,0.200],[0.256,0.255,0.253,0.251,0.247],[0.252,0.249,0.244,0.238,0.231],[0.258,0.252,0.242,0.232,0.218],[0.254,0.256,0.257,0.259,0.262],
  [0.240,0.226,0.216,0.210,0.206],[0.246,0.243,0.241,0.240,0.238],[0.242,0.235,0.231,0.229,0.227],[0.248,0.236,0.228,0.223,0.219],[0.244,0.245,0.246,0.248,0.248],
  [0.230,0.219,0.210,0.205,0.202],[0.236,0.236,0.235,0.235,0.234],[0.232,0.228,0.225,0.224,0.223],[0.238,0.229,0.222,0.218,0.215],[0.234,0.238,0.240,0.243,0.244],
  [0.220,0.211,0.205,0.200,0.198],[0.226,0.228,0.230,0.230,0.230],[0.222,0.220,0.220,0.219,0.219],[0.228,0.221,0.217,0.213,0.211],[0.224,0.230,0.235,0.238,0.240],
  [0.210,0.204,0.199,0.195,0.194],[0.216,0.221,0.224,0.225,0.226],[0.212,0.213,0.214,0.214,0.215],[0.218,0.214,0.211,0.208,0.207],[0.214,0.223,0.229,0.233,0.236],
  [0.200,0.196,0.193,0.191,0.190],[0.206,0.213,0.218,0.221,0.222],[0.202,0.205,0.208,0.210,0.211],[0.208,0.206,0.205,0.204,0.203],[0.204,0.215,0.223,0.229,0.232],
  [0.190,0.189,0.187,0.186,0.186],[0.196,0.206,0.212,0.216,0.218],[0.192,0.198,0.202,0.205,0.207],[0.198,0.199,0.199,0.199,0.199],[0.194,0.208,0.217,0.224,0.228],
  [0.180,0.181,0.181,0.181,0.182],[0.186,0.198,0.206,0.211,0.214],[0.182,0.190,0.196,0.200,0.203],[0.188,0.191,0.193,0.194,0.195],[0.184,0.200,0.211,0.219,0.224],
  [0.170,0.174,0.176,0.177,0.178],[0.176,0.191,0.201,0.207,0.210],[0.172,0.183,0.191,0.196,0.199],[0.178,0.184,0.188,0.190,0.191],[0.174,0.193,0.206,0.215,0.220],
  [0.160,0.166,0.170,0.172,0.174],[0.166,0.183,0.195,0.202,0.206],[0.162,0.175,0.185,0.191,0.195],[0.168,0.176,0.182,0.185,0.187],[0.164,0.185,0.200,0.210,0.216],
  [0.150,0.159,0.164,0.167,0.170],[0.156,0.176,0.189,0.197,0.202],[0.152,0.168,0.179,0.186,0.191],[0.158,0.169,0.176,0.180,0.183],[0.154,0.178,0.194,0.205,0.212],
  [0.140,0.151,0.158,0.162,0.166],[0.146,0.168,0.183,0.192,0.198],[0.142,0.160,0.173,0.181,0.187],[0.148,0.161,0.170,0.175,0.179],[0.144,0.170,0.188,0.200,0.208],
  [0.130,0.144,0.152,0.158,0.162],[0.136,0.161,0.177,0.188,0.194],[0.132,0.153,0.167,0.177,0.183],[0.138,0.154,0.164,0.171,0.175],[0.134,0.163,0.182,0.196,0.204],
  [0.120,0.136,0.147,0.153,0.158],[0.126,0.153,0.172,0.183,0.190],[0.122,0.145,0.162,0.172,0.179],[0.128,0.146,0.159,0.166,0.171],[0.124,0.155,0.177,0.191,0.200],
  [0.110,0.129,0.141,0.148,0.154],[0.116,0.146,0.166,0.178,0.186],[0.112,0.138,0.156,0.167,0.175],[0.118,0.139,0.153,0.161,0.167],[0.114,0.148,0.171,0.186,0.196],
  [0.100,0.121,0.135,0.144,0.150],[0.106,0.138,0.160,0.174,0.182],[0.102,0.130,0.150,0.163,0.171],[0.108,0.131,0.147,0.157,0.163],[0.104,0.140,0.165,0.182,0.192],
  [0.090,0.114,0.129,0.139,0.146],[0.096,0.131,0.154,0.169,0.178],[0.092,0.123,0.144,0.158,0.167],[0.098,0.124,0.141,0.152,0.159],[0.094,0.133,0.159,0.177,0.188],
  [0.080,0.106,0.123,0.134,0.142],[0.086,0.123,0.148,0.164,0.174],[0.082,0.115,0.138,0.153,0.163],[0.088,0.116,0.135,0.147,0.155],[0.084,0.125,0.153,0.172,0.184],
  [0.070,0.099,0.118,0.129,0.138],[0.076,0.116,0.143,0.159,0.170],[0.072,0.108,0.133,0.148,0.159],[0.078,0.109,0.130,0.142,0.151],[0.074,0.118,0.148,0.167,0.180],
  [0.060,0.091,0.112,0.125,0.134],[0.066,0.108,0.137,0.155,0.166],[0.062,0.100,0.127,0.144,0.155],[0.068,0.101,0.124,0.138,0.147],[0.064,0.110,0.142,0.163,0.176],
  [0.050,0.084,0.106,0.120,0.130],[0.056,0.101,0.131,0.150,0.162],[0.052,0.093,0.121,0.139,0.151],[0.058,0.094,0.118,0.133,0.143],[0.054,0.103,0.136,0.158,0.172],
  [0.040,0.085,0.114,0.133,0.146],[0.046,0.098,0.132,0.153,0.168],[0.042,0.090,0.122,0.143,0.157],[0.048,0.095,0.126,0.146,0.159],[0.044,0.101,0.137,0.161,0.178],
  [0.030,0.077,0.108,0.129,0.142],[0.036,0.090,0.126,0.149,0.164],[0.032,0.082,0.116,0.139,0.153],[0.038,0.087,0.120,0.142,0.155],[0.034,0.093,0.131,0.157,0.174],
  [0.020,0.070,0.103,0.124,0.138],[0.026,0.083,0.121,0.144,0.160],[0.022,0.075,0.111,0.134,0.149],[0.028,0.080,0.115,0.137,0.151],[0.024,0.086,0.126,0.152,0.170],
  [0.010,0.062,0.097,0.119,0.134],[0.016,0.075,0.115,0.139,0.156],[0.012,0.067,0.105,0.129,0.145],[0.018,0.072,0.109,0.132,0.147],[0.014,0.078,0.120,0.147,0.166],
  [0.000,0.055,0.091,0.114,0.130],[0.006,0.068,0.109,0.134,0.152],[0.002,0.060,0.099,0.124,0.141],[0.008,0.065,0.103,0.127,0.143],[0.004,0.071,0.114,0.142,0.162]
];

var panelTimes = [times20, times100, times200, times500];
var panelLines = [opinions20, opinions100, opinions200, opinions500];

// line colour cycle
var palette = ["#f656c6", "#f46b22", "#f42f57", "#ffab00", "#9dcb1b", "#27b9f6", "#12c8c1", "#0ebd55"];

var WIDTH = 1296, HEIGHT = 760;
var panelLeft = [150, 1606, 150, 1606];
var panelTop = [81, 81, 1047, 1047];
var FONT = "DejaVu Sans";

var svg = d3.select("#chart");
svg.append("rect").attr("width", 2921).attr("height", 1923).attr("fill", "#ffffff");

function styleGrid(g) {
    g.select(".domain").remove();
    g.selectAll("line")
      .attr("stroke", "#cbcbcb")
      .attr("stroke-width", 2)
      .attr("stroke-dasharray", "10.5,4.5");
}

function styleAxis(g) {
    g.attr("font-family", FONT)
      .attr("font-size", 38.5)
      .style("color", "#1f1f1f");
    g.select(".domain").attr("stroke-width", 4);
    g.selectAll(".tick line").attr("stroke-width", 3);
}

function drawPanel(i) {
    var times = panelTimes[i];
    var lines = panelLines[i];

    var g = svg.append("g")
      .attr("transform", "translate(" + panelLeft[i] + "," + panelTop[i] + ")");

    var x = d3.scaleLinear().domain([-0.05, 1.05]).range([0, WIDTH]);

    // y limits padded by 5% like the autoscaled original
    var lo = d3.min(lines, function(l) { return d3.min(l); });
    var hi = d3.max(lines, function(l) { return d3.max(l); });
    var pad = (hi - lo) * 0.05;
    var y = d3.scaleLinear().domain([lo - pad, hi + pad]).range([HEIGHT, 0]);

    // dashed grid under everything
    g.append("g")
      .attr("class", "x-grid")
      .attr("transform", "translate(0," + HEIGHT + ")")
      .call(d3.axisBottom(x).tickValues(xTicks).tickSize(-HEIGHT).tickFormat(""))
      .call(styleGrid);

    g.append("g")
      .attr("class", "y-grid")
      .call(d3.axisLeft(y).tickValues(yTicks).tickSize(-WIDTH).tickFormat(""))
      .call(styleGrid);

    var line = d3.line()
      .x(function(d, k) { return x(times[k]); })
      .y(function(d) { return y(d); });

    g.append("g")
      .attr("class", "paths")
      .selectAll("path")
      .data(lines)
      .enter()
      .append("path")
      .attr("d", line)
      .attr("fill", "none")
      .attr("stroke", function(d, k) { return palette[k % palette.length]; })
      .attr("stroke-width", 3)
      .attr("stroke-linejoin", "round")
      .attr("stroke-linecap", "butt");

    // spines with inward ticks
    g.append("g")
      .attr("class", "x-axis")
      .attr("transform", "translate(0," + HEIGHT + ")")
      .call(d3.axisBottom(x).tickValues(xTicks).tickSize(-12).tickSizeOuter(0)
              .tickPadding(14).tickFormat(d3.format(".1f")))
      .call(styleAxis);

    g.append("g")
      .attr("class", "y-axis")
      .call(d3.axisLeft(y).tickValues(yTicks).tickSize(-12).tickSizeOuter(0)
              .tickPadding(15).tickFormat(d3.format(".1f")))
      .call(styleAxis);

    g.append("text")
      .attr("x", WIDTH / 2)
      .attr("y", -19)
      .attr("text-anchor", "middle")
      .attr("font-family", FONT)
      .attr("font-size", 56)
      .attr("fill", "#333333")
      .text(panelTitles[i]);

    g.append("text")
      .attr("x", WIDTH / 2)
      .attr("y", HEIGHT + 97)
      .attr("text-anchor", "middle")
      .attr("font-family", FONT)
      .attr("font-size", 40)
      .attr("fill", "#1f1f1f")
      .text("time");

    g.append("text")
      .attr("transform", "translate(-97," + (HEIGHT / 2) + ") rotate(-90)")
      .attr("text-anchor", "middle")
      .attr("font-family", FONT)
      .attr("font-size", 40)
      .attr("fill", "#1f1f1f")
      .text("opinions");
}

for (var i = 0; i < 4; i++) {
    drawPanel(i);
}
</script>
</body>
</html>
